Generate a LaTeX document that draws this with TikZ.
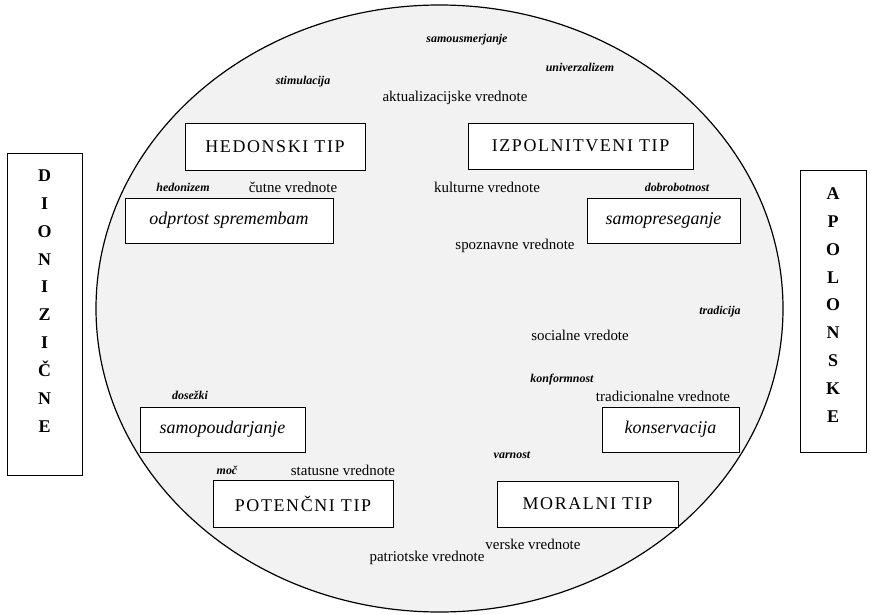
\documentclass[tikz,border=0pt]{standalone}
\usepackage{fontspec}
\setmainfont{Liberation Serif}
\usetikzlibrary{shapes}

\tikzset{
	tipbox/.style={draw, thick, fill=white, inner sep=0bp, font=\fontsize{18}{20}\selectfont},
	siroko/.style={font=\fontsize{18}{20}\selectfont\addfontfeatures{LetterSpace=9}},
	vrednota/.style={inner sep=1bp, font=\fontsize{15}{17}\selectfont},
	motiv/.style={inner sep=1bp, font=\fontsize{12}{14}\selectfont\bfseries\itshape},
	stranbox/.style={draw, thick, fill=white},
	crke/.style={align=center, inner sep=0bp, font=\fontsize{18}{28}\selectfont\bfseries}
}

\begin{document}
\begin{tikzpicture}
	\useasboundingbox (0bp,0bp) rectangle (870bp,-615bp);
	\draw [fill=black!5, line width=1.2pt] (439.5bp,-308.5bp) ellipse [x radius=343.5bp, y radius=303.5bp];

	\node (dion) at (44.5bp,-314bp) [stranbox, minimum width=75bp, minimum height=322bp] {};
	\node (dionT) at (44.5bp,-301bp) [crke] {D\\I\\O\\N\\I\\Z\\I\\Č\\N\\E};
	\node (apol) at (833bp,-311bp) [stranbox, minimum width=66bp, minimum height=282bp] {};
	\node (apolT) at (833bp,-305bp) [crke] {A\\P\\O\\L\\O\\N\\S\\K\\E};

	\node (hed) at (275bp,-146.5bp) [tipbox, siroko, minimum width=180bp, minimum height=47bp] {HEDONSKI TIP};
	\node (izp) at (580.5bp,-146bp) [tipbox, siroko, minimum width=225bp, minimum height=46bp] {IZPOLNITVENI TIP};
	\node (pot) at (303bp,-503.5bp) [tipbox, siroko, minimum width=180bp, minimum height=47bp] {POTENČNI TIP};
	\node (mor) at (587.5bp,-504bp) [tipbox, siroko, minimum width=181bp, minimum height=46bp] {MORALNI TIP};

	\node (odp) at (229bp,-220.5bp) [tipbox, minimum width=208bp, minimum height=45bp] {\itshape odprtost spremembam};
	\node (pre) at (663.5bp,-220.5bp) [tipbox, minimum width=153bp, minimum height=45bp] {\itshape samopreseganje};
	\node (kon) at (670.5bp,-429.5bp) [tipbox, minimum width=137bp, minimum height=45bp] {\itshape konservacija};
	\node (pou) at (222.5bp,-429.5bp) [tipbox, minimum width=165bp, minimum height=45bp] {\itshape samopoudarjanje};

	% vrednote
	\node (akt) at (455bp,-98bp)   [vrednota] {aktualizacijske vrednote};
	\node (cut) at (293bp,-187bp)  [vrednota] {čutne vrednote};
	\node (kul) at (487bp,-187bp)  [vrednota] {kulturne vrednote};
	\node (spo) at (515bp,-246bp)  [vrednota] {spoznavne vrednote};
	\node (soc) at (580bp,-335bp)  [vrednota] {socialne vredote};
	\node (tra) at (663bp,-396bp)  [vrednota] {tradicionalne vrednote};
	\node (sta) at (343bp,-470bp)  [vrednota] {statusne vrednote};
	\node (ver) at (533bp,-544bp)  [vrednota] {verske vrednote};
	\node (pat) at (427bp,-558bp)  [vrednota] {patriotske vrednote};

	% motivacijski tipi
	\node (smj) at (467bp,-40bp)  [motiv] {samousmerjanje};
	\node (uni) at (580bp,-67bp)  [motiv] {univerzalizem};
	\node (sti) at (303bp,-82bp)  [motiv] {stimulacija};
	\node (hdz) at (183bp,-187bp) [motiv] {hedonizem};
	\node (dob) at (677bp,-187bp) [motiv] {dobrobotnost};
	\node (trd) at (720bp,-312bp) [motiv] {tradicija};
	\node (kfm) at (562bp,-380bp) [motiv] {konformnost};
	\node (dos) at (190bp,-395bp) [motiv] {dosežki};
	\node (var) at (512bp,-455bp) [motiv] {varnost};
	\node (moc) at (227bp,-470bp) [motiv] {moč};
\end{tikzpicture}
\end{document}
